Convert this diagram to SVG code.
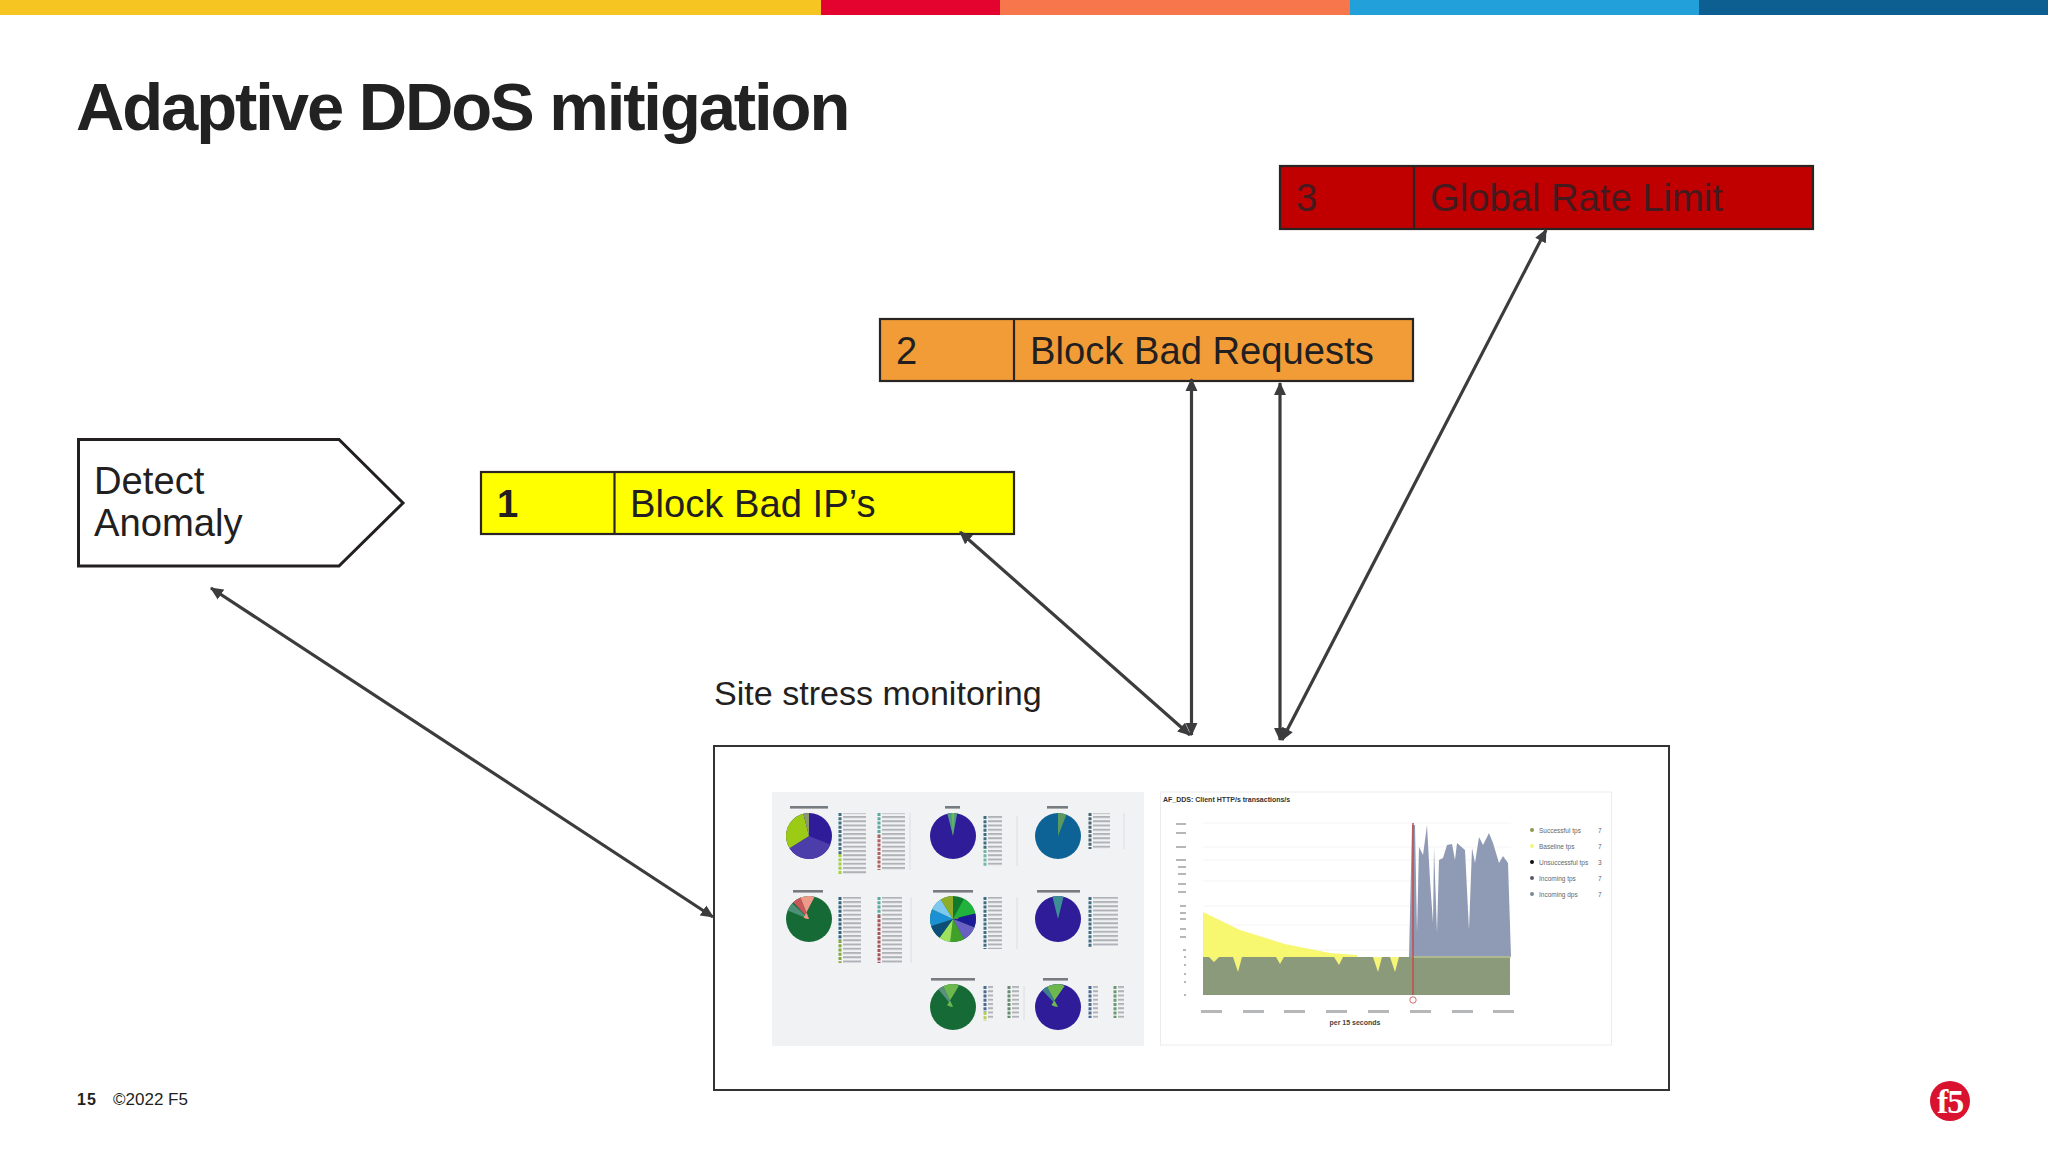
<svg xmlns="http://www.w3.org/2000/svg" width="2048" height="1152" viewBox="0 0 2048 1152">
<style>
text{font-family:"Liberation Sans",Arial,sans-serif;fill:#231f20}
.lbl{font-size:38.200px}
.box{stroke:#2a2522;stroke-width:2.200}
.conn{fill:none;stroke:#3c3c3e;stroke-width:3.200;marker-start:url(#ah);marker-end:url(#ah)}
.wedge{fill:none;stroke-width:23}
.tiny{font-size:6.500px;fill:#666}
</style>
<defs>
<marker id="ah" viewBox="0 0 12 12" refX="11" refY="6" markerWidth="13" markerHeight="13" markerUnits="userSpaceOnUse" orient="auto-start-reverse"><path d="M0 0.5L12 6L0 11.5z" fill="#3c3c3e"/></marker>
<filter id="b1" x="-5%" y="-5%" width="110%" height="110%"><feGaussianBlur stdDeviation="0.8"/></filter>
<filter id="b2" x="-5%" y="-5%" width="110%" height="110%"><feGaussianBlur stdDeviation="0.6"/></filter>
<pattern id="rows" width="8" height="4.250" patternUnits="userSpaceOnUse"><rect width="8" height="2" fill="#9a9ea3"/></pattern>
</defs>

<g id="top-bar">
<rect x="0" y="0" width="821" height="15" fill="#f6c522"/>
<rect x="821" y="0" width="179" height="15" fill="#e4032e"/>
<rect x="1000" y="0" width="350" height="15" fill="#f8764b"/>
<rect x="1350" y="0" width="349" height="15" fill="#21a0d9"/>
<rect x="1699" y="0" width="349" height="15" fill="#0c5f90"/>
</g>

<text id="title" x="76" y="130" font-size="67" font-weight="700" letter-spacing="-2.100" style="fill:#222">Adaptive DDoS mitigation</text>

<g id="node-detect">
<path d="M78.500 439.500H339L403 503L339 566H78.500z" fill="#fff" stroke="#231f20" stroke-width="3"/>
<text class="lbl" x="94" y="494">Detect</text>
<text class="lbl" x="94" y="536">Anomaly</text>
</g>

<g id="node-1">
<rect class="box" x="481" y="472" width="533" height="62" fill="#ffff00"/>
<path class="box" d="M614.500 472V534"/>
<text class="lbl" x="497" y="517" font-weight="700">1</text>
<text class="lbl" x="630" y="517">Block Bad IP’s</text>
</g>

<g id="node-2">
<rect class="box" x="880" y="319" width="533" height="62" fill="#f29c38"/>
<path class="box" d="M1014 319V381"/>
<text class="lbl" x="896" y="364">2</text>
<text class="lbl" x="1030" y="364">Block Bad Requests</text>
</g>

<g id="node-3">
<rect class="box" x="1280" y="166" width="533" height="63" fill="#c00000"/>
<path class="box" d="M1414 166V229"/>
<text class="lbl" x="1296" y="211" style="fill:#451a1e">3</text>
<text class="lbl" x="1430" y="211" style="fill:#451a1e">Global Rate Limit</text>
</g>

<g id="node-monitor">
<text x="714" y="705" font-size="34.100">Site stress monitoring</text>
<rect x="714" y="746" width="955" height="344" fill="#fff" stroke="#333" stroke-width="2"/>

<g id="pies-panel" filter="url(#b2)">
<rect x="772" y="792" width="372" height="254" fill="#f1f2f4"/>

<g transform="translate(809 836) rotate(-90)">
<circle r="23" fill="#2d1a98"/>
<circle class="wedge" r="11.500" pathLength="100" stroke="#4b3caa" stroke-dasharray="35 65" stroke-dashoffset="-31"/>
<circle class="wedge" r="11.500" pathLength="100" stroke="#9ccb12" stroke-dasharray="30 70" stroke-dashoffset="-66"/>
<circle class="wedge" r="11.500" pathLength="100" stroke="#8a9a70" stroke-dasharray="4 96" stroke-dashoffset="-96"/>
</g>
<g transform="translate(953 836) rotate(-90)">
<circle r="23" fill="#2d1a98"/>
<circle class="wedge" r="11.500" pathLength="100" stroke="#4f9a8a" stroke-dasharray="7 93" stroke-dashoffset="-96"/>
<circle class="wedge" r="11.500" pathLength="100" stroke="#6cb850" stroke-dasharray="2 98" stroke-dashoffset="-99"/>
</g>
<g transform="translate(1058 836) rotate(-90)">
<circle r="23" fill="#0f6496"/>
<circle class="wedge" r="11.500" pathLength="100" stroke="#5a9a60" stroke-dasharray="6 94" stroke-dashoffset="0"/>
</g>
<g transform="translate(809 919) rotate(-90)">
<circle r="23" fill="#176b36"/>
<circle class="wedge" r="11.500" pathLength="100" stroke="#4d9178" stroke-dasharray="6 94" stroke-dashoffset="-81"/>
<circle class="wedge" r="11.500" pathLength="100" stroke="#c9565a" stroke-dasharray="6 94" stroke-dashoffset="-88"/>
<circle class="wedge" r="11.500" pathLength="100" stroke="#ee9a88" stroke-dasharray="6 94" stroke-dashoffset="-94"/>
</g>
<g transform="translate(953 919) rotate(-90)">
<circle r="23" fill="#117a2f"/>
<circle class="wedge" r="11.500" pathLength="100" stroke="#22b33c" stroke-dasharray="13 87" stroke-dashoffset="-8"/>
<circle class="wedge" r="11.500" pathLength="100" stroke="#1d1f96" stroke-dasharray="10 90" stroke-dashoffset="-21"/>
<circle class="wedge" r="11.500" pathLength="100" stroke="#6a60c4" stroke-dasharray="11 89" stroke-dashoffset="-31"/>
<circle class="wedge" r="11.500" pathLength="100" stroke="#3fa02c" stroke-dasharray="10 90" stroke-dashoffset="-42"/>
<circle class="wedge" r="11.500" pathLength="100" stroke="#9fe05c" stroke-dasharray="8 92" stroke-dashoffset="-52"/>
<circle class="wedge" r="11.500" pathLength="100" stroke="#0c4f78" stroke-dasharray="10 90" stroke-dashoffset="-60"/>
<circle class="wedge" r="11.500" pathLength="100" stroke="#1c90d4" stroke-dasharray="12 88" stroke-dashoffset="-70"/>
<circle class="wedge" r="11.500" pathLength="100" stroke="#7cc8f0" stroke-dasharray="9 91" stroke-dashoffset="-82"/>
<circle class="wedge" r="11.500" pathLength="100" stroke="#90ad2a" stroke-dasharray="9 91" stroke-dashoffset="-91"/>
</g>
<g transform="translate(1058 919) rotate(-90)">
<circle r="23" fill="#2d1a98"/>
<circle class="wedge" r="11.500" pathLength="100" stroke="#3d8f96" stroke-dasharray="8 92" stroke-dashoffset="-96"/>
</g>
<g transform="translate(953 1007) rotate(-90)">
<circle r="23" fill="#176b36"/>
<circle class="wedge" r="11.500" pathLength="100" stroke="#5b8f80" stroke-dasharray="4 96" stroke-dashoffset="-89"/>
<circle class="wedge" r="11.500" pathLength="100" stroke="#6cb850" stroke-dasharray="7 93" stroke-dashoffset="-93"/>
</g>
<g transform="translate(1058 1007) rotate(-90)">
<circle r="23" fill="#2d1a98"/>
<circle class="wedge" r="11.500" pathLength="100" stroke="#3f7f90" stroke-dasharray="4 96" stroke-dashoffset="-88"/>
<circle class="wedge" r="11.500" pathLength="100" stroke="#6cb850" stroke-dasharray="8 92" stroke-dashoffset="-92"/>
</g>

<g fill="#777b80">
<rect x="790" y="806" width="38" height="2.600"/><rect x="945" y="806" width="15" height="2.600"/><rect x="1047" y="806" width="21" height="2.600"/>
<rect x="793" y="890" width="30" height="2.600"/><rect x="933" y="890" width="40" height="2.600"/><rect x="1037" y="890" width="43" height="2.600"/>
<rect x="931" y="978" width="44" height="2.600"/><rect x="1043" y="978" width="25" height="2.600"/>
</g>
<g fill="url(#rows)" opacity=".75">
<rect x="843" y="813" width="23" height="62"/><rect x="882" y="813" width="23" height="57"/>
<rect x="988" y="816" width="14" height="50"/><rect x="1093" y="813" width="17" height="36"/>
<rect x="843" y="897" width="18" height="66"/><rect x="882" y="897" width="20" height="66"/>
<rect x="988" y="897" width="14" height="52"/><rect x="1093" y="897" width="25" height="50"/>
<rect x="988" y="986" width="5" height="34"/><rect x="1012" y="986" width="7" height="32"/>
<rect x="1093" y="986" width="5" height="32"/><rect x="1118" y="986" width="6" height="32"/>
</g>
<g fill="none" stroke-width="3" stroke-dasharray="3 1.250">
<path d="M840 813V854" stroke="#3f6d80"/><path d="M840 854V875" stroke="#a7cf3a"/>
<path d="M879 813V835" stroke="#5fa8a0"/><path d="M879 835V870" stroke="#b4605f"/>
<path d="M985 816V850" stroke="#3f6d80"/><path d="M985 850V866" stroke="#6fb7a8"/>
<path d="M1090 813V849" stroke="#4c6570"/>
<path d="M840 897V940" stroke="#33647a"/><path d="M840 940V963" stroke="#84a83a"/>
<path d="M879 897V915" stroke="#5fa8a0"/><path d="M879 915V963" stroke="#a9555a"/>
<path d="M985 897V949" stroke="#3f6d80"/><path d="M1090 897V947" stroke="#3f6d80"/>
<path d="M985 986V1012" stroke="#4c6a90"/><path d="M985 1012V1021" stroke="#b5cf50"/>
<path d="M1009 986V1018" stroke="#6a8a70"/>
<path d="M1090 986V1018" stroke="#4c6a90"/><path d="M1115 986V1018" stroke="#6a9a70"/>
</g>
<path d="M910 813V870M911 897V963M1017 816V866M1124 813V849M1017 897V949M1024 986V1020" stroke="#d5d8dc" stroke-width=".8" fill="none"/>
</g>

<g id="chart-panel">
<rect x="1160.500" y="792" width="451" height="253" fill="#fff" stroke="#ececef" stroke-width="1"/>
<g filter="url(#b2)">
<path d="M1203 823H1511M1203 847H1511M1203 860H1511M1203 881H1511M1203 906H1511M1203 925H1511M1203 950H1511M1203 970H1511" stroke="#f4f4f6" stroke-width="1" fill="none"/>
<path d="M1203 912L1240 930L1285 944L1330 953L1357 955L1357 957L1203 957z" fill="#f7f770"/>
<path d="M1203 957H1510V995H1203z" fill="#8a9a7a"/>
<path d="M1209 957L1214 962L1219 957zM1233 957L1238 972L1242 957zM1276 957L1280 964L1284 957zM1334 957L1339 965L1343 957zM1373 957L1378 972L1382 957zM1390 957L1395 972L1399 957z" fill="#f5f57a"/>
<path d="M1409 957L1412 825L1415 825L1417 933L1419 847L1423 855L1427 825L1430 880L1433 923L1434 847L1437 933L1439 860L1443 858L1447 845L1452 844L1455 860L1457 843L1465 850L1469 930L1472 848L1475 863L1479 837L1483 845L1489 833L1493 843L1499 863L1503 856L1508 863L1511 957z" fill="#8f9ab4"/>
<path d="M1412 957H1511" stroke="#cfd68a" stroke-width="1" fill="none"/>
<path d="M1413 823V995" stroke="#c44b4b" stroke-width="1.500" fill="none"/>
<circle cx="1413" cy="1000" r="3.200" fill="#fff" stroke="#d96a6a" stroke-width="1"/>
<g fill="#b5b7b9">
<rect x="1176" y="823" width="10" height="2"/><rect x="1176" y="832" width="10" height="2"/><rect x="1176" y="846" width="10" height="2"/><rect x="1176" y="859" width="10" height="2"/><rect x="1178" y="866" width="8" height="2"/><rect x="1178" y="873" width="8" height="2"/><rect x="1178" y="883" width="8" height="2"/><rect x="1178" y="891" width="8" height="2"/><rect x="1180" y="905" width="6" height="2"/><rect x="1180" y="912" width="6" height="2"/><rect x="1180" y="918" width="6" height="2"/><rect x="1180" y="928" width="6" height="2"/><rect x="1180" y="936" width="6" height="2"/><rect x="1183" y="949" width="3" height="2"/><rect x="1184" y="956" width="2" height="2"/><rect x="1184" y="964" width="2" height="2"/><rect x="1184" y="973" width="2" height="2"/><rect x="1184" y="981" width="2" height="2"/><rect x="1184" y="994" width="2" height="2"/>
<rect x="1201" y="1010" width="21" height="3"/><rect x="1243" y="1010" width="21" height="3"/><rect x="1284" y="1010" width="21" height="3"/><rect x="1326" y="1010" width="21" height="3"/><rect x="1368" y="1010" width="21" height="3"/><rect x="1410" y="1010" width="21" height="3"/><rect x="1452" y="1010" width="21" height="3"/><rect x="1493" y="1010" width="21" height="3"/>
</g>
</g>
<text x="1163" y="802" font-size="7" font-weight="700" style="fill:#333">AF_DDS: Client HTTP/s transactions/s</text>
<g>
<circle cx="1532" cy="830" r="2" fill="#8a9a50"/><circle cx="1532" cy="846" r="2" fill="#f5f57a"/><circle cx="1532" cy="862" r="2" fill="#111"/><circle cx="1532" cy="878" r="2" fill="#555a68"/><circle cx="1532" cy="894" r="2" fill="#7c8794"/>
<text class="tiny" x="1539" y="833">Successful tps</text>
<text class="tiny" x="1539" y="849">Baseline tps</text>
<text class="tiny" x="1539" y="865">Unsuccessful tps</text>
<text class="tiny" x="1539" y="881">Incoming tps</text>
<text class="tiny" x="1539" y="897">Incoming dps</text>
<text class="tiny" x="1598" y="833">7</text><text class="tiny" x="1598" y="849">7</text><text class="tiny" x="1598" y="865">3</text><text class="tiny" x="1598" y="881">7</text><text class="tiny" x="1598" y="897">7</text>
</g>
<text x="1355" y="1025" font-size="7" font-weight="700" text-anchor="middle" style="fill:#444">per 15 seconds</text>
</g>
</g>

<g id="connectors">
<path class="conn" d="M211 588L713 917"/>
<path class="conn" d="M960 532L1190 735"/>
<path class="conn" d="M1191.500 379V735"/>
<path class="conn" d="M1280 383V740"/>
<path class="conn" d="M1546 230L1282 740"/>
</g>

<g id="footer">
<text x="77" y="1105" font-size="16" font-weight="700" letter-spacing="1">15</text>
<text x="113" y="1105" font-size="17">©2022 F5</text>
</g>

<g id="f5-logo">
<circle cx="1950" cy="1101" r="20" fill="#d8122f"/>
<text x="1937" y="1113" font-size="34" font-weight="700" style="font-family:'Liberation Serif',serif;fill:#fff" letter-spacing="-1">f5</text>
</g>
</svg>
